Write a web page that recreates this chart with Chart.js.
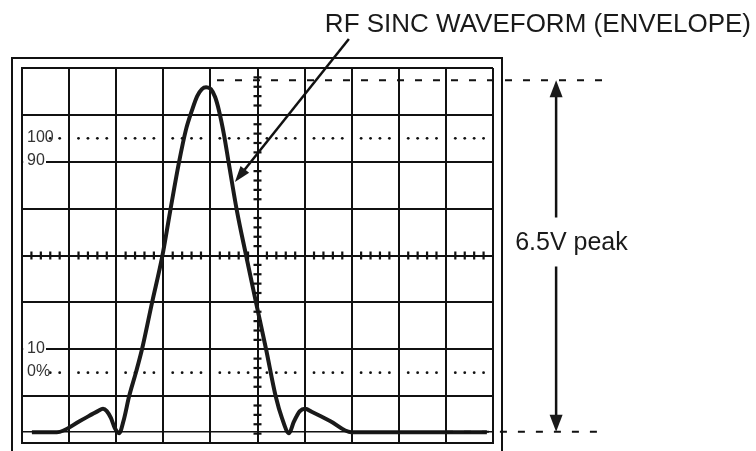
<!DOCTYPE html>
<html>
<head>
<meta charset="utf-8">
<script src="https://cdn.jsdelivr.net/npm/chart.js@4.4.0/dist/chart.umd.min.js"></script>
<style>
  html, body { margin: 0; padding: 0; background: #fff; }
  #wrap { width: 756px; height: 451px; }
</style>
</head>
<body>
<div id="wrap"><canvas id="scope" width="756" height="451"></canvas></div>
<script>
// sinc envelope as traced on the graticule, in divisions (10 across, 8 up)
const waveX = [0.21, 0.74, 1.23, 1.61, 1.72, 1.80, 1.89, 1.97, 2.06, 2.17, 2.27, 2.42, 2.55, 2.76,
  2.98, 3.15, 3.33, 3.48, 3.61, 3.72, 3.82, 3.91, 4.01, 4.10, 4.18, 4.29, 4.39, 4.56, 4.76, 4.97,
  5.18, 5.39, 5.52, 5.67, 5.77, 5.90, 6.01, 6.16, 6.54, 6.99, 9.87];
const waveY = [0.23, 0.23, 0.47, 0.68, 0.73, 0.68, 0.53, 0.32, 0.21, 0.53, 0.98, 1.51, 2.01, 2.99,
  3.99, 4.97, 5.97, 6.68, 7.10, 7.40, 7.55, 7.59, 7.55, 7.38, 7.10, 6.57, 5.97, 4.97, 3.99, 2.99,
  2.01, 0.98, 0.53, 0.21, 0.45, 0.68, 0.73, 0.66, 0.47, 0.23, 0.23];

// rise-time reference marks (divisions) and their labels
const refLabels = ["100", "90", "10", "0%"];
const refLevels = [6.5, 6.0, 2.0, 1.5];
const dottedLevels = [6.5, 1.5];

// peak / zero levels used by the dashed lines and the 6.5V arrow
const peakLevel = 7.74;
const baseLevel = 0.24;
const peakText = "6.5V peak";
const titleText = "RF SINC WAVEFORM (ENVELOPE)";

const FONT = "'Liberation Sans', Arial, Helvetica, sans-serif";

// graticule minor marks (5 per division), not data
let hTicks = [], vTicks = [], dots = [];
for (let i = 1; i < 50; i++) {
  if (i % 5 === 0) continue;
  hTicks.push({ x: i / 5, y: 4 });
  if (i >= 3) dottedLevels.forEach(l => dots.push({ x: i / 5, y: l }));
}
for (let i = 1; i < 40; i++) {
  if (i % 5 === 0) continue;
  vTicks.push({ x: 5, y: i / 5 });
}

const wave = waveX.map((x, i) => ({ x: x, y: waveY[i] }));

function arrowHead(ctx, x1, y1, x2, y2, len, w) {
  const a = Math.atan2(y2 - y1, x2 - x1);
  ctx.save();
  ctx.translate(x2, y2);
  ctx.rotate(a);
  ctx.beginPath();
  ctx.moveTo(0, 0);
  ctx.lineTo(-len, w / 2);
  ctx.lineTo(-len, -w / 2);
  ctx.closePath();
  ctx.fill();
  ctx.restore();
}

const decor = {
  id: "decor",
  beforeDraw(chart) {
    const ctx = chart.ctx, a = chart.chartArea;
    ctx.save();
    ctx.fillStyle = "#fff";
    ctx.fillRect(0, 0, chart.width, chart.height);
    // outer bezel
    ctx.strokeStyle = "#111";
    ctx.lineWidth = 2;
    ctx.strokeRect(a.left - 10, a.top - 10, a.right - a.left + 19, chart.height);
    ctx.restore();
  },
  afterDatasetsDraw(chart) {
    const ctx = chart.ctx, xs = chart.scales.x, ys = chart.scales.y, a = chart.chartArea;
    ctx.save();
    ctx.fillStyle = "#111";
    ctx.strokeStyle = "#111";

    // reference labels on the left of the graticule
    ctx.font = "16px " + FONT;
    ctx.textBaseline = "middle";
    ctx.textAlign = "left";
    refLabels.forEach((t, i) => {
      const y = ys.getPixelForValue(refLevels[i]);
      const w = ctx.measureText(t).width;
      if (Number.isInteger(refLevels[i])) {
        ctx.fillStyle = "#fff";
        ctx.fillRect(a.left + 1.2, y - 3, w + 5, 6);
      }
      ctx.fillStyle = "#333";
      ctx.fillText(t, a.left + 5, y - 1);
    });

    // title + pointer to the envelope
    ctx.fillStyle = "#1a1a1a";
    ctx.font = "26px " + FONT;
    ctx.textBaseline = "alphabetic";
    ctx.textAlign = "right";
    ctx.fillText(titleText, 751, 32);

    const tx = xs.getPixelForValue(6.94), ty = ys.getPixelForValue(8.62);
    const hx = xs.getPixelForValue(4.52), hy = ys.getPixelForValue(5.57);
    ctx.lineWidth = 2.5;
    ctx.beginPath();
    ctx.moveTo(tx, ty);
    const ang = Math.atan2(hy - ty, hx - tx);
    ctx.lineTo(hx - Math.cos(ang) * 12, hy - Math.sin(ang) * 12);
    ctx.stroke();
    arrowHead(ctx, tx, ty, hx, hy, 16, 11);

    // 6.5V peak double arrow
    const ax = xs.getPixelForValue(11.34);
    const top = ys.getPixelForValue(peakLevel), bot = ys.getPixelForValue(baseLevel);
    const mid = ys.getPixelForValue(4.3);
    ctx.beginPath();
    ctx.moveTo(ax, top + 12);
    ctx.lineTo(ax, mid - 24);
    ctx.moveTo(ax, mid + 25);
    ctx.lineTo(ax, bot - 12);
    ctx.stroke();
    arrowHead(ctx, ax, bot, ax, top, 17, 13);
    arrowHead(ctx, ax, top, ax, bot, 17, 13);

    ctx.font = "25px " + FONT;
    ctx.textAlign = "left";
    ctx.fillText(peakText, xs.getPixelForValue(10.47), mid + 9);
    ctx.restore();
  }
};

const chart = new Chart(document.getElementById("scope"), {
  type: "line",
  data: {
    datasets: [
      {
        // zero reference across the screen
        data: [{ x: 0, y: baseLevel }, { x: 10, y: baseLevel }],
        borderColor: "#111",
        borderWidth: 1.4,
        pointRadius: 0,
      },
      {
        data: dots,
        showLine: false,
        pointStyle: "circle",
        pointRadius: 1.4,
        pointBackgroundColor: "#111",
        pointBorderWidth: 0,
      },
      {
        data: hTicks,
        showLine: false,
        pointStyle: "line",
        pointRotation: 90,
        pointRadius: 4,
        pointBorderColor: "#111",
        pointBorderWidth: 2.2,
      },
      {
        data: vTicks,
        showLine: false,
        pointStyle: "line",
        pointRadius: 4,
        pointBorderColor: "#111",
        pointBorderWidth: 2.2,
      },
      {
        // top dashed line at the peak
        data: [{ x: 4.14, y: peakLevel }, { x: 12.38, y: peakLevel }],
        borderColor: "#111",
        borderWidth: 2,
        borderDash: [7, 11],
        pointRadius: 0,
        clip: false,
      },
      {
        // bottom dashed line at zero
        data: [{ x: 9.0, y: baseLevel }, { x: 12.42, y: baseLevel }],
        borderColor: "#111",
        borderWidth: 2,
        borderDash: [7, 11],
        pointRadius: 0,
        clip: false,
      },
      {
        data: wave,
        borderColor: "#1a1a1a",
        borderWidth: 4,
        pointRadius: 0,
        cubicInterpolationMode: "monotone",
        borderJoinStyle: "round",
      },
    ],
  },
  options: {
    responsive: false,
    animation: false,
    events: [],
    layout: { padding: { left: 22, top: 68, right: 263, bottom: 8 } },
    plugins: { legend: { display: false }, tooltip: { enabled: false } },
    scales: {
      x: {
        type: "linear",
        min: 0,
        max: 10,
        ticks: { display: false, stepSize: 1 },
        grid: { color: "#111", lineWidth: 2, drawTicks: false },
        border: { color: "#111", width: 2 },
      },
      y: {
        type: "linear",
        min: 0,
        max: 8,
        ticks: { display: false, stepSize: 1 },
        grid: { color: "#111", lineWidth: 2, drawTicks: false },
        border: { color: "#111", width: 2 },
      },
    },
  },
  plugins: [decor],
});
</script>
</body>
</html>
